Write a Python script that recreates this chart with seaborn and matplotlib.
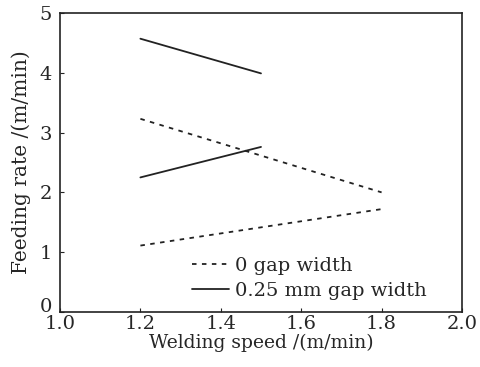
import matplotlib
matplotlib.use("Agg")
import matplotlib.pyplot as plt
import seaborn as sns
import pandas as pd

# Data
series_names = ["0 gap width", "0 gap width", "0.25 mm gap width", "0.25 mm gap width"]
segment_ids = ["a", "b", "c", "d"]
x_start = [1.2, 1.2, 1.2, 1.2]
x_end = [1.8, 1.8, 1.5, 1.5]
y_start = [3.23, 1.11, 4.57, 2.25]
y_end = [2.0, 1.72, 3.99, 2.76]

x_ticks = [1.0, 1.2, 1.4, 1.6, 1.8, 2.0]
y_ticks = [0, 1, 2, 3, 4, 5]

rows = []
for s, u, x0, x1, y0, y1 in zip(series_names, segment_ids, x_start, x_end, y_start, y_end):
    rows.append({"series": s, "seg": u, "x": x0, "y": y0})
    rows.append({"series": s, "seg": u, "x": x1, "y": y1})
df = pd.DataFrame(rows)

sns.set_style("ticks")
plt.rcParams["font.family"] = ["DejaVu Serif"]

fig = plt.figure(figsize=(4.8, 3.67), dpi=100)
ax = fig.add_axes([0.125, 0.15, 0.8375, 0.8146])

sns.lineplot(data=df, x="x", y="y", hue="series", style="series", units="seg",
             estimator=None, sort=False, palette=["#222222", "#222222"],
             dashes={"0 gap width": (2.5, 3), "0.25 mm gap width": ""},
             linewidth=1.3, ax=ax)

ax.set_xlim(1.0, 2.0)
ax.set_ylim(0, 5)
ax.set_xticks(x_ticks)
ax.set_xticklabels([f"{v:.1f}" for v in x_ticks])
ax.set_yticks(y_ticks)
ax.set_yticklabels([str(v) for v in y_ticks])
ax.tick_params(direction="in", length=3, labelsize=14, pad=2, color="#222222")
ax.tick_params(axis="y", pad=6)
ylabels = ax.get_yticklabels()
ylabels[0].set_verticalalignment("baseline")
ax.set_xlabel("Welding speed /(m/min)", fontsize=13.5, labelpad=1)
ax.set_ylabel("Feeding rate /(m/min)", fontsize=14.5, labelpad=6)
for sp in ax.spines.values():
    sp.set_linewidth(1.2)
    sp.set_color("#222222")

ax.legend(loc="lower left", bbox_to_anchor=(0.3, 0.0), frameon=False, fontsize=14,
          handlelength=1.9, handletextpad=0.3, labelspacing=0.4, borderaxespad=0.2)

fig.savefig("out.png", dpi=100)
